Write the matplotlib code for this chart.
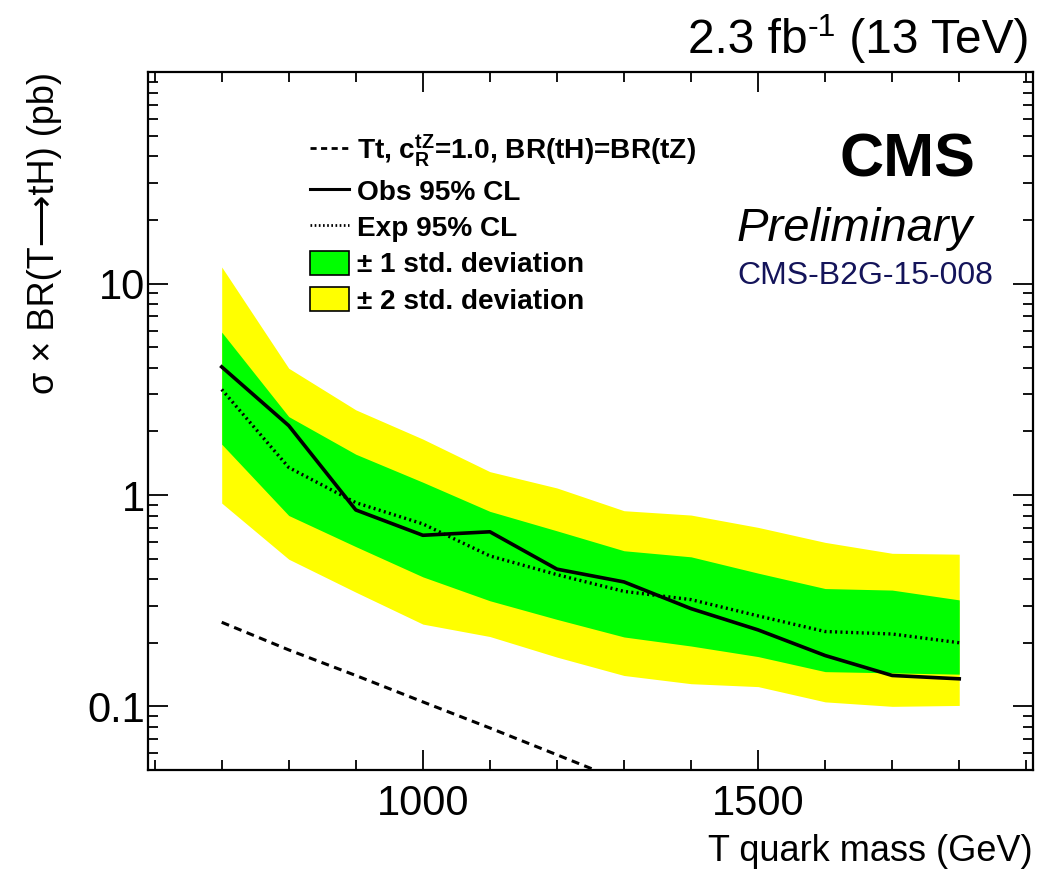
import matplotlib
matplotlib.use("Agg")
import matplotlib.pyplot as plt
from matplotlib.lines import Line2D
from matplotlib.patches import Patch
from matplotlib.ticker import FixedLocator, NullFormatter, FixedFormatter
from matplotlib.transforms import offset_copy
import numpy as np

plt.rcParams['font.family'] = ['Liberation Sans', 'DejaVu Sans']
plt.rcParams['mathtext.fontset'] = 'custom'
plt.rcParams['mathtext.rm'] = 'Liberation Sans'
plt.rcParams['mathtext.it'] = 'Liberation Sans:italic'
plt.rcParams['mathtext.bf'] = 'Liberation Sans:bold'

# T quark mass points (GeV)
mass = [700, 800, 900, 1000, 1100, 1200, 1300, 1400, 1500, 1600, 1700, 1800]

# 95% CL upper limits on sigma x BR(T->tH) (pb)
observed = [4.04, 2.13, 0.85, 0.645, 0.67, 0.446, 0.388, 0.29, 0.23, 0.174, 0.14, 0.135]
expected = [3.16, 1.35, 0.92, 0.73, 0.515, 0.42, 0.35, 0.32, 0.268, 0.226, 0.22, 0.20]
band1_up = [5.9, 2.35, 1.56, 1.15, 0.837, 0.677, 0.545, 0.51, 0.427, 0.361, 0.355, 0.319]
band1_dn = [1.74, 0.80, 0.57, 0.41, 0.316, 0.258, 0.213, 0.193, 0.172, 0.146, 0.144, 0.142]
band2_up = [12.0, 3.98, 2.53, 1.84, 1.29, 1.08, 0.843, 0.804, 0.703, 0.597, 0.53, 0.525]
band2_dn = [0.916, 0.497, 0.347, 0.245, 0.214, 0.171, 0.14, 0.128, 0.124, 0.105, 0.10, 0.101]

# Theory prediction
theory_mass = [700, 800, 900, 1000, 1100, 1200, 1300]
theory_xsec = [0.25, 0.185, 0.14, 0.105, 0.079, 0.059, 0.044]

fig = plt.figure(figsize=(10.53, 8.72), dpi=100)
ax = fig.add_axes([0.1405, 0.117, 0.8405, 0.8])

ax.fill_between(mass, band2_dn, band2_up, color='#ffff00', lw=0, zorder=1)
ax.fill_between(mass, band1_dn, band1_up, color='#00ff00', lw=0, zorder=2)
ax.plot(mass, expected, color='black', lw=2.4, ls=(0, (0.6, 1.0)), zorder=3)
ax.plot(mass, observed, color='black', lw=2.6, zorder=4)
ax.plot(theory_mass, theory_xsec, color='black', lw=2.2, ls=(0, (2.6, 1.8)), zorder=3)

ax.set_yscale('log')
ax.set_xlim(590, 1910)
ax.set_ylim(0.05, 100)

# x ticks
ax.xaxis.set_major_locator(FixedLocator([1000, 1500]))
ax.xaxis.set_minor_locator(FixedLocator(np.arange(600, 1901, 100)))
ax.xaxis.set_minor_formatter(NullFormatter())
# y ticks
ax.yaxis.set_major_locator(FixedLocator([0.1, 1, 10, 100]))
ax.yaxis.set_major_formatter(FixedFormatter(['0.1', '1', '10', '']))
yminor = [k * 10.0 ** e for e in (-2, -1, 0, 1) for k in range(2, 10)]
ax.yaxis.set_minor_locator(FixedLocator(yminor))
ax.yaxis.set_minor_formatter(NullFormatter())

ax.tick_params(which='both', direction='in', top=True, right=True, width=1.3, colors='black')
ax.tick_params(which='major', length=14.5, labelsize=30)
ax.tick_params(axis='x', which='major', pad=10)
ax.tick_params(axis='y', which='major', pad=2)
ax.tick_params(which='minor', length=7.5)
for s in ax.spines.values():
    s.set_linewidth(1.6)

ax.set_xlabel('T quark mass (GeV)', fontsize=26, ha='right', x=1.0, labelpad=7)
ax.set_ylabel('σ × BR(T⟶tH) (pb)', fontsize=26, ha='right', y=1.0, labelpad=18)

handles = [
    Line2D([], [], color='black', lw=2.0, ls=(0, (2.2, 1.6))),
    Line2D([], [], color='black', lw=2.2),
    Line2D([], [], color='black', lw=2.0, ls=(0, (0.6, 0.9))),
    Patch(facecolor='#00ff00', edgecolor='black', lw=1.2),
    Patch(facecolor='#ffff00', edgecolor='black', lw=1.2),
]
labels = [
    r'Tt, $\mathbf{c}_{\mathbf{R}}^{\mathbf{tZ}}$=1.0, BR(tH)=BR(tZ)',
    'Obs 95% CL',
    'Exp 95% CL',
    '± 1 std. deviation',
    '± 2 std. deviation',
]
leg = ax.legend(handles, labels, loc='upper left', bbox_to_anchor=(0.17, 0.93),
                frameon=False, prop={'weight': 'bold', 'size': 20.2},
                handlelength=1.4, handleheight=0.95, handletextpad=0.3,
                labelspacing=0.31, borderaxespad=0)

# Luminosity / energy label, assembled right to left
renderer = fig.canvas.get_renderer()
t_right = fig.text(0.978, 0.953, ' (13 TeV)', fontsize=34.5, ha='right', va='center')
w_right = t_right.get_window_extent(renderer).width
sup_tr = offset_copy(t_right.get_transform(), fig=fig, x=-w_right, y=13, units='dots')
t_sup = fig.text(0.978, 0.953, '-1', fontsize=23, ha='right', va='center', transform=sup_tr)
w_sup = t_sup.get_window_extent(renderer).width
left_tr = offset_copy(t_right.get_transform(), fig=fig, x=-(w_right + w_sup), y=0, units='dots')
fig.text(0.978, 0.953, '2.3 fb', fontsize=34.5, ha='right', va='center', transform=left_tr)

ax.text(0.935, 0.873, 'CMS', transform=ax.transAxes, fontsize=44, fontweight='bold',
        ha='right', va='center')
ax.text(0.932, 0.776, 'Preliminary', transform=ax.transAxes, fontsize=34, style='italic',
        ha='right', va='center')
ax.text(0.811, 0.708, 'CMS-B2G-15-008', transform=ax.transAxes, fontsize=23,
        color='#14145a', ha='center', va='center')

fig.savefig('out.png', dpi=100)
